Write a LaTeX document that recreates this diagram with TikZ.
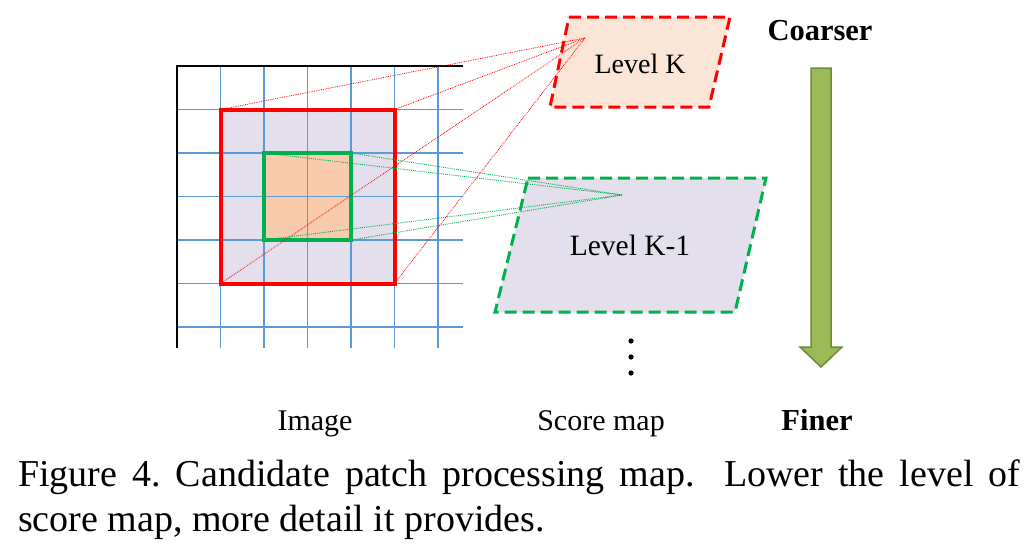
\documentclass[tikz,border=0pt]{standalone}
\usepackage{fontspec}
\setmainfont{Liberation Serif}
\usepackage{tikz}
\usepackage{xcolor}
\definecolor{ColRed}{RGB}{255,0,0}
\definecolor{ColGreen}{RGB}{0,176,80}
\definecolor{ColGrid}{RGB}{91,155,213}
\definecolor{ColLav}{RGB}{228,223,236}
\definecolor{ColPeach}{RGB}{248,203,173}
\definecolor{ColLight}{RGB}{251,229,214}
\definecolor{ColArrow}{RGB}{155,187,89}
\definecolor{ColArrowDark}{RGB}{113,137,63}
\tikzstyle{GridLine}=[ColGrid,line width=1.1pt]
\tikzstyle{AxisLine}=[black,line width=1.6pt]
\tikzstyle{PatchNode}=[rectangle,inner sep=0pt,outer sep=0pt]
\tikzstyle{RedFrame}=[ColRed,line width=4pt]
\tikzstyle{GreenFrame}=[ColGreen,line width=3.5pt]
\tikzstyle{LevelKShape}=[draw=ColRed,fill=ColLight,line width=3pt,dash pattern=on 12pt off 6pt]
\tikzstyle{LevelKoneShape}=[draw=ColGreen,fill=ColLav,line width=3pt,dash pattern=on 12pt off 6pt]
\tikzstyle{RedRay}=[ColRed,line width=.8pt,densely dotted]
\tikzstyle{GreenRay}=[ColGreen,line width=.9pt,densely dotted]
\tikzstyle{BigArrow}=[fill=ColArrow,draw=ColArrowDark,line width=1.5pt,line join=miter]
\tikzstyle{LabelText}=[font=\fontsize{30}{36}\selectfont,anchor=base,inner sep=0pt]
\tikzstyle{BoldText}=[font=\fontsize{30.5}{36}\selectfont\bfseries,anchor=base,inner sep=0pt]
\tikzstyle{CaptionText}=[font=\fontsize{38}{44.5}\selectfont,anchor=north west,inner sep=0pt,
text width=1002pt,align=justify]

\begin{document}
\begin{tikzpicture}[x=1pt,y=-1pt]
        \useasboundingbox(0,0)rectangle(1032,555);
        \node[PatchNode,fill=ColLav,minimum size=174pt](red)at(307.5,196.5){};
        \node[PatchNode,fill=ColPeach,minimum size=87pt](green)at(307.5,196.5){};
        \foreach \x in {220.5,264,307.5,351,394.5,438}
            \draw[GridLine](\x,66)--(\x,348);
        \foreach \y in {109.5,153,196.5,240,283.5,327}
            \draw[GridLine](177,\y)--(463,\y);
        \draw[AxisLine](463,66)--(177,66)--(177,348);
        \draw[RedFrame](red.north west)rectangle(red.south east);
        \draw[GreenFrame](green.north west)rectangle(green.south east);
        \draw[LevelKShape](569,17)--(730,17)--(709,107)--(550,107)--cycle;
        \draw[LevelKoneShape](528,178)--(766,178)--(735,312)--(495,312)--cycle;
        \node[LabelText,font=\fontsize{28}{34}\selectfont](levk)at(640,73){Level K};
        \node[LabelText,font=\fontsize{29.5}{36}\selectfont](levkone)at(630,255){Level K-1};
        \coordinate(kfocus)at(585,38);
        \coordinate(konefocus)at(622,195);
        \draw[RedRay](red.north west)--(kfocus);
        \draw[RedRay](red.north east)--(kfocus);
        \draw[RedRay](red.south west)--(kfocus);
        \draw[RedRay](red.south east)--(kfocus);
        \draw[GreenRay](green.north west)--(konefocus);
        \draw[GreenRay](green.north east)--(konefocus);
        \draw[GreenRay](green.south west)--(konefocus);
        \draw[GreenRay](green.south east)--(konefocus);
        \foreach \y in {341,357,373}
            \fill(631,\y)circle(2.6);
        \draw[BigArrow](811,68)--(831,68)--(831,347)--(842,347)--(821,367)--(800,347)--(811,347)--cycle;
        \node[BoldText](coarser)at(820,40){Coarser};
        \node[BoldText](finer)at(817,430){Finer};
        \node[LabelText](image)at(315,430){Image};
        \node[LabelText](score)at(601,430){Score map};
        \node[CaptionText](caption)at(18,460){Figure 4.\ Candidate patch processing map.  Lower the level of\linebreak score map, more detail it provides.};
    \end{tikzpicture}
\end{document}
